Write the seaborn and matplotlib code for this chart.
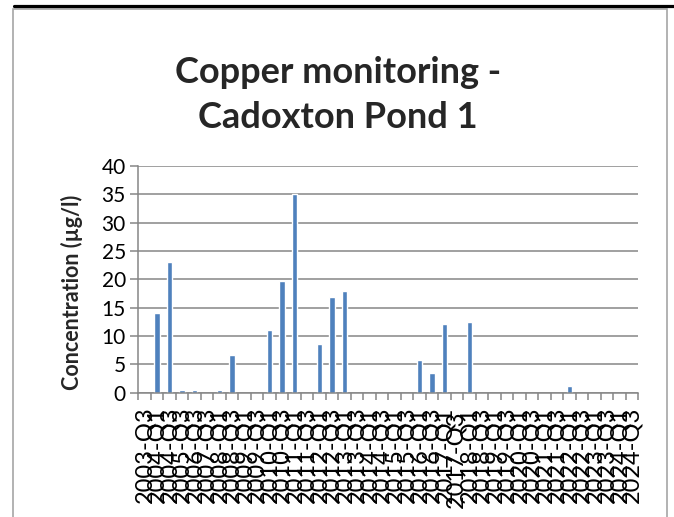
import matplotlib
matplotlib.use("Agg")
import matplotlib.pyplot as plt
import matplotlib.ticker as mticker
from matplotlib.patches import Rectangle
from matplotlib.lines import Line2D
import numpy as np
import pandas as pd
import seaborn as sns

# sampling rounds (one label has a trailing space in the source sheet)
quarters = ["2003-Q3", "2004-Q1", "2004-Q3", "2005-Q3", "2006-Q3", "2007-Q3",
            "2008-Q1", "2008-Q3", "2009-Q1", "2009-Q3", "2010-Q1", "2010-Q3",
            "2011-Q1", "2011-Q3", "2012-Q1", "2012-Q3", "2013-Q1", "2013-Q3",
            "2014-Q1", "2014-Q3", "2015-Q1", "2015-Q3", "2016-Q1", "2016-Q3",
            "2017-Q1", "2017-Q3 ", "2018-Q1", "2018-Q3", "2019-Q1", "2019-Q3",
            "2020-Q1", "2020-Q3", "2021-Q1", "2021-Q3", "2022-Q1", "2022-Q3",
            "2023-Q1", "2023-Q3", "2024-Q1", "2024-Q3"]

# copper concentration, ug/l (nan = no result)
copper = [np.nan, 14.0, 23.0, 0.4, 0.4, np.nan,
          0.4, 6.7, np.nan, np.nan, 11.0, 19.7,
          35.0, np.nan, 8.6, 16.9, 17.9, np.nan,
          np.nan, np.nan, np.nan, np.nan, 5.7, 3.4,
          12.2, np.nan, 12.5, np.nan, np.nan, np.nan,
          np.nan, np.nan, np.nan, np.nan, 1.1, np.nan,
          np.nan, np.nan, np.nan, np.nan]

y_ticks = [0, 5, 10, 15, 20, 25, 30, 35, 40]

sns.set_style("white")
plt.rcParams['font.family'] = ['Lato', 'DejaVu Sans']

W, H = 674, 517
fig = plt.figure(figsize=(W / 100, H / 100), dpi=100)
ax = fig.add_axes([138.3 / W, 1 - 392.7 / H, 500 / W, (392.7 - 166) / H])

df = pd.DataFrame({'quarter': quarters, 'cu': copper})
sns.barplot(data=df, x='quarter', y='cu', order=quarters, color='#4F81BD',
            saturation=1, width=0.43, errorbar=None, ax=ax)

grid_c = '#868686'
ax.set_xlim(-0.5, len(quarters) - 0.5)
ax.set_ylim(0, 40)
ax.set_yticks(y_ticks)
ax.yaxis.grid(True, color=grid_c, lw=1.1)
ax.set_axisbelow(True)
for s in ['top', 'right']:
    ax.spines[s].set_visible(False)
for s in ['left', 'bottom']:
    ax.spines[s].set_color(grid_c)
    ax.spines[s].set_linewidth(1.1)

ax.set_xlabel('')
ax.set_ylabel('')
ax.xaxis.set_minor_locator(mticker.FixedLocator(np.arange(-0.5, len(quarters), 1)))
ax.tick_params(axis='x', which='major', length=0, pad=10, labelsize=17,
               rotation=90, labelcolor='black')
ax.tick_params(axis='x', which='minor', length=5, width=1.1, color=grid_c,
               direction='out', bottom=True)
ax.tick_params(axis='y', length=6, width=1.1, color=grid_c, direction='out',
               left=True, labelsize=15, pad=3, labelcolor='black')
for lab in ax.get_xticklabels():
    lab.set_verticalalignment('top')

fig.text(0.5015, 1 - 95 / H, "Copper monitoring -\nCadoxton Pond 1",
         ha='center', va='center', fontsize=26, fontweight='bold',
         linespacing=1.42)
fig.text(72 / W, 1 - 292 / H, "Concentration (µg/l)", rotation=90,
         ha='center', va='center', fontsize=15.5, fontweight='bold')

# chart frame and top rule
fig.patches.append(Rectangle((13 / W, -0.1), (667 - 13) / W, 1.1 - 8.5 / H,
                             transform=fig.transFigure, fill=False,
                             edgecolor='#a6a6a6', lw=1.2))
fig.lines.append(Line2D([14 / W, 1], [1 - 6.2 / H, 1 - 6.2 / H],
                        transform=fig.transFigure, color='black', lw=2.3))

fig.savefig("out.png", dpi=100)
